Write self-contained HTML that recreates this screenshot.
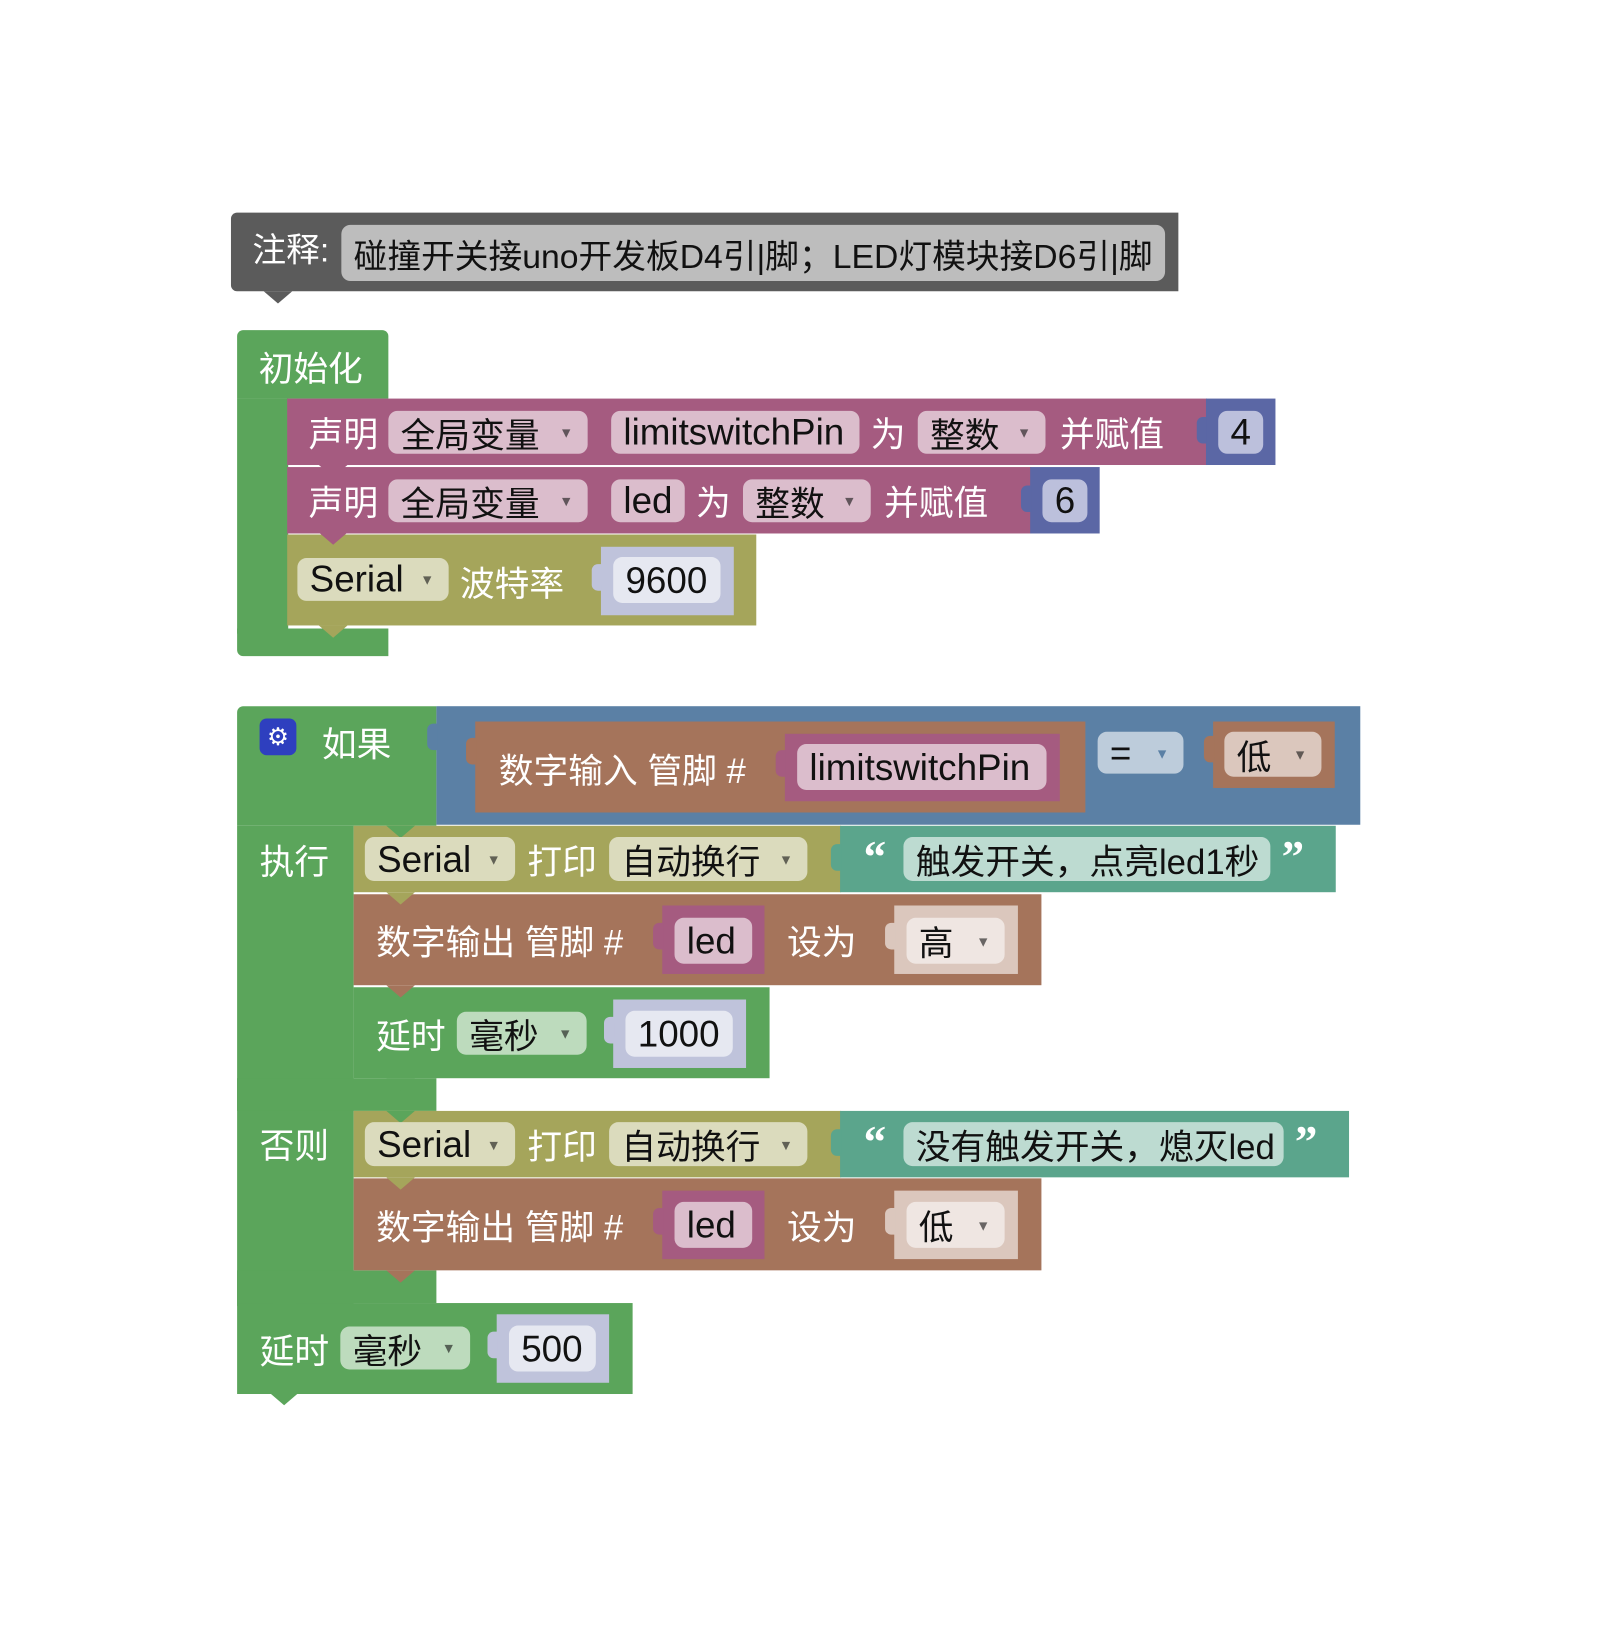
<!DOCTYPE html>
<html><head><meta charset="utf-8">
<style>
html,body{margin:0;padding:0;background:#fff;}
body{width:1601px;height:1601px;position:relative;overflow:hidden;font-family:"Liberation Sans","Noto Sans CJK SC",sans-serif;}
#w{position:absolute;left:0;top:0;width:1601px;height:1601px;transform:scale(1.022);transform-origin:0 0;}
.b{position:absolute;}
.t{position:absolute;color:#fff;font-size:34px;white-space:nowrap;display:flex;align-items:center;}
.f{position:absolute;border-radius:9px;color:#111;font-size:34px;white-space:nowrap;display:flex;align-items:center;padding-left:12px;box-sizing:border-box;}
.l{font-size:36px;}
.dd{position:absolute;right:14px;font-size:14px;opacity:.6;}
.notch{position:absolute;width:0;height:0;border-left:14px solid transparent;border-right:14px solid transparent;border-top:12px solid;}
.tab{position:absolute;width:10px;height:26px;border-radius:6px 0 0 6px;}
.q{font-size:44px;font-weight:bold;font-family:"Liberation Serif",serif;}
</style></head><body><div id="w">

<!-- comment -->
<div class="b" style="left:226px;top:208px;width:927px;height:77px;background:#5b5b5b;border-radius:6px 0 0 6px"></div>
<div class="notch" style="left:258px;top:285px;border-top-color:#5b5b5b"></div>
<div class="t" style="left:247px;top:220px;height:44px;font-size:33px">注释:</div>
<div class="f" style="left:334px;top:220px;width:806px;height:55px;background:#bdbdbd;font-size:33px">碰撞开关接uno开发板D4引|脚；LED灯模块接D6引|脚</div>

<!-- init -->
<div class="b" style="left:232px;top:323px;width:148px;height:67px;background:#5ba55b;border-radius:6px 6px 0 0"></div>
<div class="b" style="left:232px;top:390px;width:50px;height:230px;background:#5ba55b"></div>
<div class="b" style="left:232px;top:615px;width:148px;height:27px;background:#5ba55b;border-radius:0 0 0 6px"></div>
<div class="t" style="left:253px;top:333px;height:50px">初始化</div>

<!-- declare 1 -->
<div class="b" style="left:281px;top:390px;width:900px;height:65px;background:#a55b80"></div>
<div class="t" style="left:302px;top:390px;height:65px">声明</div>
<div class="f" style="left:380px;top:402px;width:195px;height:42px;background:#dbbdcc">全局变量<span class="dd">▼</span></div>
<div class="f l" style="left:598px;top:402px;width:243px;height:42px;background:#dbbdcc">limitswitchPin</div>
<div class="t" style="left:852px;top:390px;height:65px">为</div>
<div class="f" style="left:898px;top:402px;width:125px;height:42px;background:#dbbdcc">整数<span class="dd">▼</span></div>
<div class="t" style="left:1037px;top:390px;height:65px">并赋值</div>
<div class="b" style="left:1180px;top:390px;width:68px;height:65px;background:#5b67a5"></div>
<div class="tab" style="left:1171px;top:408px;background:#5b67a5"></div>
<div class="f l" style="left:1192px;top:402px;width:44px;height:42px;background:#bcc0dc">4</div>

<!-- declare 2 -->
<div class="b" style="left:281px;top:457px;width:728px;height:65px;background:#a55b80"></div>
<div class="notch" style="left:312px;top:455px;border-top-color:#a55b80"></div>
<div class="t" style="left:302px;top:457px;height:65px">声明</div>
<div class="f" style="left:380px;top:469px;width:195px;height:42px;background:#dbbdcc">全局变量<span class="dd">▼</span></div>
<div class="f l" style="left:598px;top:469px;width:72px;height:42px;background:#dbbdcc">led</div>
<div class="t" style="left:681px;top:457px;height:65px">为</div>
<div class="f" style="left:727px;top:469px;width:125px;height:42px;background:#dbbdcc">整数<span class="dd">▼</span></div>
<div class="t" style="left:865px;top:457px;height:65px">并赋值</div>
<div class="b" style="left:1008px;top:457px;width:68px;height:65px;background:#5b67a5"></div>
<div class="tab" style="left:999px;top:475px;background:#5b67a5"></div>
<div class="f l" style="left:1020px;top:469px;width:44px;height:42px;background:#bcc0dc">6</div>

<!-- serial baud -->
<div class="b" style="left:281px;top:523px;width:459px;height:89px;background:#a5a55b"></div>
<div class="notch" style="left:312px;top:521px;border-top-color:#a55b80"></div>
<div class="notch" style="left:312px;top:612px;border-top-color:#a5a55b"></div>
<div class="f l" style="left:291px;top:546px;width:148px;height:42px;background:#dbdbbd">Serial<span class="dd">▼</span></div>
<div class="t" style="left:450px;top:535px;height:67px">波特率</div>
<div class="b" style="left:588px;top:535px;width:130px;height:67px;background:#bfc3db"></div>
<div class="tab" style="left:579px;top:552px;background:#bfc3db"></div>
<div class="f l" style="left:600px;top:545px;width:105px;height:45px;background:#e6e8f1">9600</div>

<!-- if block -->
<div class="b" style="left:232px;top:691px;width:195px;height:117px;background:#5ba55b;border-radius:6px 0 0 0"></div>
<div class="b" style="left:232px;top:808px;width:114px;height:470px;background:#5ba55b"></div>
<div class="b" style="left:232px;top:1055px;width:195px;height:32px;background:#5ba55b"></div>
<div class="b" style="left:232px;top:1243px;width:195px;height:32px;background:#5ba55b"></div>
<div class="b" style="left:254px;top:703px;width:36px;height:36px;background:#2e3fbf;border-radius:7px;color:#fff;font-size:24px;display:flex;align-items:center;justify-content:center">⚙</div>
<div class="t" style="left:315px;top:700px;height:50px">如果</div>
<div class="t" style="left:254px;top:815px;height:50px">执行</div>
<div class="t" style="left:254px;top:1093px;height:50px">否则</div>

<!-- condition -->
<div class="b" style="left:427px;top:691px;width:904px;height:116px;background:#5b80a5"></div>
<div class="tab" style="left:418px;top:708px;background:#5b80a5"></div>
<div class="b" style="left:465px;top:706px;width:597px;height:89px;background:#a5745b"></div>
<div class="tab" style="left:456px;top:722px;background:#a5745b"></div>
<div class="t" style="left:488px;top:718px;height:66px">数字输入 管脚 #</div>
<div class="b" style="left:768px;top:718px;width:269px;height:66px;background:#a55b80"></div>
<div class="tab" style="left:759px;top:734px;background:#a55b80"></div>
<div class="f l" style="left:780px;top:728px;width:244px;height:45px;background:#dbbdcc">limitswitchPin</div>
<div class="f l" style="left:1074px;top:716px;width:84px;height:41px;background:#bdccdb">=<span class="dd" style="color:#5b80a5;opacity:1">▼</span></div>
<div class="b" style="left:1187px;top:706px;width:119px;height:65px;background:#a5745b"></div>
<div class="tab" style="left:1178px;top:720px;background:#a5745b"></div>
<div class="f" style="left:1198px;top:716px;width:95px;height:44px;background:#dbc7bd">低<span class="dd">▼</span></div>

<!-- serial print 1 -->
<div class="b" style="left:346px;top:808px;width:477px;height:65px;background:#a5a55b"></div>
<div class="notch" style="left:378px;top:808px;border-top-color:#5ba55b"></div>
<div class="f l" style="left:357px;top:819px;width:147px;height:43px;background:#dbdbbd">Serial<span class="dd">▼</span></div>
<div class="t" style="left:516px;top:808px;height:65px">打印</div>
<div class="f" style="left:596px;top:819px;width:194px;height:43px;background:#dbdbbd">自动换行<span class="dd">▼</span></div>
<div class="b" style="left:822px;top:808px;width:485px;height:65px;background:#5ba58c"></div>
<div class="tab" style="left:813px;top:826px;background:#5ba58c"></div>
<div class="t q" style="left:845px;top:808px;height:60px">“</div>
<div class="f" style="left:884px;top:819px;width:359px;height:43px;background:#bddbd1">触发开关，点亮led1秒</div>
<div class="t q" style="left:1254px;top:808px;height:60px">”</div>

<!-- digital out 1 -->
<div class="b" style="left:346px;top:875px;width:673px;height:89px;background:#a5745b"></div>
<div class="notch" style="left:378px;top:873px;border-top-color:#a5a55b"></div>
<div class="t" style="left:368px;top:886px;height:67px">数字输出 管脚 #</div>
<div class="b" style="left:648px;top:886px;width:100px;height:67px;background:#a55b80"></div>
<div class="tab" style="left:639px;top:903px;background:#a55b80"></div>
<div class="f l" style="left:660px;top:898px;width:76px;height:45px;background:#dbbdcc">led</div>
<div class="t" style="left:770px;top:886px;height:67px">设为</div>
<div class="b" style="left:875px;top:886px;width:121px;height:67px;background:#dbc7bd"></div>
<div class="tab" style="left:866px;top:903px;background:#dbc7bd"></div>
<div class="f" style="left:887px;top:898px;width:96px;height:45px;background:#efe6e2">高<span class="dd">▼</span></div>

<!-- delay 1000 -->
<div class="b" style="left:346px;top:966px;width:407px;height:89px;background:#5ba55b"></div>
<div class="notch" style="left:378px;top:964px;border-top-color:#a5745b"></div>
<div class="notch" style="left:378px;top:1055px;border-top-color:#5ba55b"></div>
<div class="t" style="left:368px;top:978px;height:67px">延时</div>
<div class="f" style="left:447px;top:990px;width:127px;height:42px;background:#bddbbd">毫秒<span class="dd">▼</span></div>
<div class="b" style="left:600px;top:978px;width:130px;height:67px;background:#bfc3db"></div>
<div class="tab" style="left:591px;top:995px;background:#bfc3db"></div>
<div class="f l" style="left:612px;top:989px;width:105px;height:45px;background:#e6e8f1">1000</div>

<!-- serial print 2 -->
<div class="b" style="left:346px;top:1087px;width:477px;height:65px;background:#a5a55b"></div>
<div class="notch" style="left:378px;top:1087px;border-top-color:#5ba55b"></div>
<div class="f l" style="left:357px;top:1098px;width:147px;height:43px;background:#dbdbbd">Serial<span class="dd">▼</span></div>
<div class="t" style="left:516px;top:1087px;height:65px">打印</div>
<div class="f" style="left:596px;top:1098px;width:194px;height:43px;background:#dbdbbd">自动换行<span class="dd">▼</span></div>
<div class="b" style="left:822px;top:1087px;width:498px;height:65px;background:#5ba58c"></div>
<div class="tab" style="left:813px;top:1105px;background:#5ba58c"></div>
<div class="t q" style="left:845px;top:1087px;height:60px">“</div>
<div class="f" style="left:884px;top:1098px;width:372px;height:43px;background:#bddbd1">没有触发开关，熄灭led</div>
<div class="t q" style="left:1267px;top:1087px;height:60px">”</div>

<!-- digital out 2 -->
<div class="b" style="left:346px;top:1153px;width:673px;height:90px;background:#a5745b"></div>
<div class="notch" style="left:378px;top:1152px;border-top-color:#a5a55b"></div>
<div class="notch" style="left:378px;top:1243px;border-top-color:#a5745b"></div>
<div class="t" style="left:368px;top:1165px;height:67px">数字输出 管脚 #</div>
<div class="b" style="left:648px;top:1165px;width:100px;height:67px;background:#a55b80"></div>
<div class="tab" style="left:639px;top:1182px;background:#a55b80"></div>
<div class="f l" style="left:660px;top:1176px;width:76px;height:45px;background:#dbbdcc">led</div>
<div class="t" style="left:770px;top:1165px;height:67px">设为</div>
<div class="b" style="left:875px;top:1165px;width:121px;height:67px;background:#dbc7bd"></div>
<div class="tab" style="left:866px;top:1182px;background:#dbc7bd"></div>
<div class="f" style="left:887px;top:1176px;width:96px;height:45px;background:#efe6e2">低<span class="dd">▼</span></div>

<!-- delay 500 -->
<div class="b" style="left:232px;top:1275px;width:387px;height:89px;background:#5ba55b"></div>
<div class="notch" style="left:264px;top:1273px;border-top-color:#5ba55b"></div>
<div class="notch" style="left:264px;top:1363px;border-top-color:#5ba55b"></div>
<div class="t" style="left:254px;top:1286px;height:67px">延时</div>
<div class="f" style="left:333px;top:1298px;width:127px;height:42px;background:#bddbbd">毫秒<span class="dd">▼</span></div>
<div class="b" style="left:486px;top:1286px;width:110px;height:67px;background:#bfc3db"></div>
<div class="tab" style="left:477px;top:1303px;background:#bfc3db"></div>
<div class="f l" style="left:498px;top:1297px;width:85px;height:45px;background:#e6e8f1">500</div>

</div></body></html>
